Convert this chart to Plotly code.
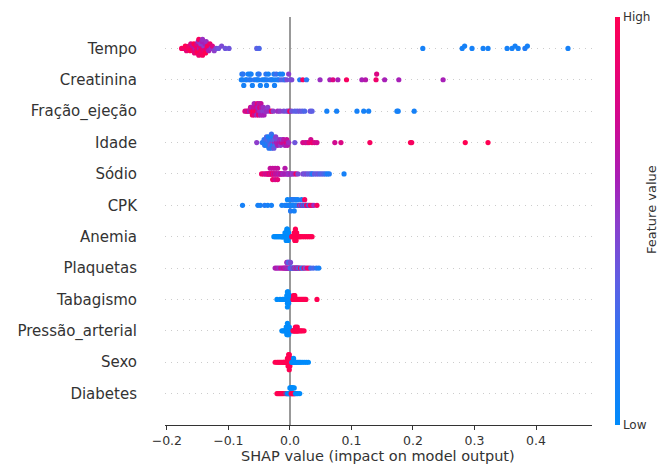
import numpy as np
import plotly.graph_objects as go

# Features, top to bottom
features = ["Tempo", "Creatinina", "Fração_ejeção", "Idade", "Sódio", "CPK",
            "Anemia", "Plaquetas", "Tabagismo", "Pressão_arterial", "Sexo", "Diabetes"]

# (SHAP value, normalised feature value) pairs
tempo = [(-0.176,0.95),(-0.172,0.9),(-0.170,1.0),(-0.168,0.85),(-0.166,0.95),(-0.164,0.9),(-0.162,1.0),
         (-0.161,0.8),(-0.159,0.95),(-0.158,0.7),(-0.157,0.9),(-0.156,1.0),(-0.155,0.85),(-0.154,0.6),
         (-0.153,0.95),(-0.152,0.9),(-0.151,0.75),(-0.150,1.0),(-0.149,0.55),(-0.148,0.9),(-0.148,0.95),
         (-0.147,0.65),(-0.146,0.85),(-0.145,1.0),(-0.145,0.5),(-0.144,0.9),(-0.143,0.6),(-0.142,0.95),
         (-0.142,0.55),(-0.141,0.8),(-0.140,0.5),(-0.139,0.9),(-0.138,0.6),(-0.137,1.0),(-0.136,0.55),
         (-0.135,0.85),(-0.134,0.95),(-0.132,0.6),(-0.130,0.9),(-0.128,0.55),(-0.126,0.8),(-0.123,0.5),
         (-0.120,0.45),(-0.116,0.4),(-0.111,0.45),(-0.105,0.4),(-0.099,0.4),
         (-0.054,0.35),(-0.050,0.3),
         (0.216,0.1),(0.280,0.1),(0.284,0.1),(0.296,0.1),(0.314,0.1),(0.322,0.1),(0.353,0.1),
         (0.361,0.1),(0.366,0.1),(0.371,0.1),(0.382,0.15),(0.386,0.1),(0.452,0.1)]

creatinina = [(-0.079,0.1),(-0.078,0.15),(-0.077,0.1),(-0.076,0.2),(-0.075,0.1),(-0.072,0.15),(-0.070,0.1),
              (-0.068,0.1),(-0.066,0.2),(-0.065,0.1),(-0.064,0.15),(-0.063,0.1),(-0.061,0.1),(-0.058,0.2),
              (-0.055,0.1),(-0.053,0.15),(-0.052,0.1),(-0.051,0.1),(-0.050,0.2),(-0.048,0.1),(-0.045,0.15),
              (-0.042,0.1),(-0.040,0.1),(-0.039,0.2),(-0.038,0.1),(-0.037,0.15),(-0.035,0.1),(-0.032,0.1),
              (-0.030,0.2),(-0.028,0.1),(-0.026,0.15),(-0.025,0.1),(-0.024,0.1),(-0.022,0.25),(-0.020,0.1),
              (-0.018,0.15),(-0.016,0.1),(-0.014,0.3),(-0.012,0.1),(-0.010,0.35),(-0.008,0.2),
              (-0.005,0.45),(-0.002,0.5),(0.001,0.4),(0.003,0.45),
              (0.016,0.15),(0.021,0.95),(0.027,0.2),(0.049,0.55),(0.065,0.6),(0.070,0.8),(0.078,0.6),
              (0.092,0.95),(0.117,0.6),(0.123,0.65),(0.140,0.9),(0.141,0.8),(0.154,0.6),(0.177,0.6),(0.249,0.6)]

fracao_ejecao = [(-0.073,0.8),(-0.070,0.7),(-0.068,0.9),(-0.066,0.6),(-0.064,0.75),(-0.063,0.85),(-0.062,0.6),
                 (-0.061,0.95),(-0.060,1.0),(-0.059,0.7),(-0.058,0.8),(-0.058,0.6),(-0.057,0.9),(-0.056,0.65),
                 (-0.055,1.0),(-0.055,0.75),(-0.054,0.55),(-0.053,0.85),(-0.052,0.7),(-0.052,0.6),(-0.051,0.9),
                 (-0.050,0.65),(-0.049,0.55),(-0.049,0.8),(-0.048,0.6),(-0.047,0.7),(-0.046,0.55),(-0.046,0.65),
                 (-0.045,0.6),(-0.044,0.5),(-0.043,0.55),(-0.042,0.6),(-0.040,0.5),(-0.038,0.55),(-0.036,0.5),
                 (-0.033,0.55),(-0.030,0.95),(-0.027,0.5),
                 (-0.020,0.55),(-0.016,0.5),(-0.010,0.45),(-0.005,0.4),(-0.002,0.45),(0.000,0.95),(0.003,0.4),
                 (0.008,0.35),(0.012,0.35),(0.016,0.4),(0.020,0.35),(0.024,0.3),(0.033,0.4),(0.036,0.35),
                 (0.060,0.1),(0.076,0.1),(0.109,0.1),(0.120,0.1),(0.128,0.1),(0.174,0.1),(0.176,0.1),(0.202,0.1)]

idade = [(-0.054,0.5),(-0.045,0.2),(-0.043,0.15),(-0.042,0.2),(-0.041,0.2),(-0.040,0.15),(-0.039,0.25),
         (-0.038,0.1),(-0.038,0.3),(-0.037,0.2),(-0.036,0.3),(-0.035,0.15),(-0.035,0.1),(-0.034,0.2),
         (-0.033,0.25),(-0.033,0.2),(-0.032,0.35),(-0.031,0.1),(-0.030,0.2),(-0.030,0.25),(-0.029,0.45),
         (-0.028,0.3),(-0.028,0.15),(-0.027,0.15),(-0.026,0.4),(-0.025,0.55),(-0.025,0.35),(-0.024,0.3),
         (-0.023,0.5),(-0.022,0.6),(-0.020,0.45),(-0.020,0.6),(-0.018,0.65),(-0.016,0.55),(-0.015,0.5),
         (-0.014,0.7),(-0.012,0.5),(-0.010,0.75),(-0.010,0.65),(-0.008,0.6),(-0.006,0.8),(-0.005,0.7),
         (-0.004,0.65),(-0.002,0.55),
         (0.008,0.4),(0.021,0.75),(0.025,0.8),(0.028,0.7),(0.031,0.85),(0.034,0.75),(0.036,0.9),
         (0.040,0.8),(0.044,0.75),(0.073,0.75),(0.083,0.8),(0.130,0.95),(0.196,1.0),(0.198,0.95),
         (0.285,1.0),(0.322,1.0)]

sodio = [(-0.046,0.9),(-0.043,0.85),(-0.040,0.75),(-0.038,0.8),(-0.036,0.7),(-0.035,0.8),(-0.034,0.75),
         (-0.033,0.9),(-0.032,0.7),(-0.031,0.65),(-0.030,0.8),(-0.029,0.95),(-0.028,0.7),(-0.028,0.9),
         (-0.027,0.75),(-0.026,0.65),(-0.025,0.85),(-0.024,0.7),(-0.024,0.75),(-0.023,0.6),(-0.022,0.75),
         (-0.021,0.65),(-0.020,0.7),(-0.020,0.85),(-0.019,0.8),(-0.018,0.6),(-0.016,0.65),(-0.015,0.7),
         (-0.014,0.7),(-0.012,0.6),(-0.010,0.55),(-0.009,0.6),(-0.008,0.65),(-0.006,0.6),(-0.004,0.55),
         (-0.003,0.65),(-0.002,0.5),(0.000,0.55),(0.002,0.6),(0.004,0.5),(0.007,0.55),(0.010,0.95),
         (0.013,0.45),
         (0.021,0.45),(0.024,0.4),(0.027,0.45),(0.030,0.35),(0.033,0.4),(0.035,0.3),(0.037,0.1),
         (0.040,0.4),(0.043,0.35),(0.046,0.4),(0.049,0.3),(0.052,0.35),(0.055,0.3),(0.058,0.25),
         (0.061,0.1),(0.064,0.15),(0.088,0.1)]

cpk = [(-0.077,0.1),(-0.052,0.1),(-0.048,0.1),(-0.041,0.15),(-0.036,0.1),(-0.030,0.1),(-0.013,0.1),
       (-0.008,0.1),(-0.006,0.15),(-0.005,0.1),(-0.004,0.05),(-0.003,0.1),(-0.002,0.2),(-0.001,0.1),
       (0.000,0.05),(0.001,0.1),(0.001,0.15),(0.002,0.1),(0.003,0.2),(0.003,0.1),(0.004,0.05),
       (0.005,0.1),(0.005,0.15),(0.006,0.1),(0.007,0.2),(0.007,0.1),(0.008,0.05),(0.009,0.1),
       (0.010,0.15),(0.010,0.1),(0.011,0.2),(0.012,0.1),(0.013,0.1),(0.014,0.3),(0.015,0.1),
       (0.016,0.9),(0.017,0.15),(0.018,0.5),(0.019,0.1),(0.020,0.85),(0.021,0.2),(0.022,0.1),
       (0.023,0.6),(0.024,0.95),(0.025,0.1),(0.026,0.2),(0.027,0.9),(0.029,0.8),(0.031,0.1),
       (0.033,0.95),(0.036,0.9),(0.039,0.55),(0.044,0.95)]

anemia = [(-0.026,0),(-0.024,0),(-0.022,0),(-0.020,0),(-0.018,0),(-0.016,0),(-0.014,0),(-0.013,0),
          (-0.012,0),(-0.011,0),(-0.010,0),(-0.009,0),(-0.008,0),(-0.008,0),(-0.007,0),(-0.007,0),
          (-0.006,0),(-0.006,0),(-0.006,0),(-0.005,0),(-0.005,0),(-0.005,0),(-0.005,0),(-0.004,0),
          (-0.004,0),(-0.004,0),(-0.004,0),(-0.003,0),(-0.003,0),(-0.003,0),(-0.002,0),(-0.002,0),
          (-0.001,0),
          (0.003,1),(0.004,1),(0.005,1),(0.006,1),(0.007,1),(0.007,1),(0.008,1),(0.008,1),(0.008,1),
          (0.009,1),(0.009,1),(0.009,1),(0.009,1),(0.010,1),(0.010,1),(0.010,1),(0.011,1),(0.011,1),
          (0.012,1),(0.014,1),(0.016,1),(0.018,1),(0.021,1),(0.024,1),(0.027,1),(0.030,1),(0.033,1),
          (0.036,1)]

plaquetas = [(-0.024,0.6),(-0.021,0.65),(-0.018,0.55),(-0.015,0.7),(-0.012,0.6),(-0.010,0.75),(-0.008,0.55),
             (-0.007,0.65),(-0.006,0.5),(-0.005,0.7),(-0.005,0.6),(-0.004,0.45),(-0.004,0.55),(-0.003,0.75),
             (-0.003,0.4),(-0.002,0.5),(-0.002,0.35),(-0.001,0.6),(-0.001,0.3),(0.000,0.4),(0.001,0.25),
             (0.001,0.45),(0.002,0.3),(0.003,0.2),(0.004,0.5),(0.005,0.35),(0.006,0.2),(0.007,0.8),
             (0.008,0.4),(0.009,0.3),(0.010,0.9),(0.011,0.6),(0.012,0.25),(0.013,0.85),(0.014,0.5),
             (0.015,0.2),(0.017,0.95),(0.019,0.3),(0.021,0.15),(0.023,0.9),(0.025,0.4),(0.028,0.85),
             (0.031,0.9),(0.034,0.25),(0.038,0.3),(0.043,0.2),(0.047,0.1)]

tabagismo = [(-0.021,0),(-0.016,0),(-0.012,0),(-0.010,0),(-0.008,0),(-0.007,0),(-0.006,0),(-0.005,0),
             (-0.005,0),(-0.004,0),(-0.004,0),(-0.004,0),(-0.004,0),(-0.004,0),(-0.003,0),(-0.003,0),
             (-0.003,0),(-0.003,0),(-0.002,0),(-0.002,0),(-0.002,0),(-0.001,0),(-0.001,0),(0.000,0),
             (0.000,0),(0.001,0),(0.002,0),
             (0.005,1),(0.006,1),(0.006,1),(0.007,1),(0.007,1),(0.008,1),(0.008,1),(0.009,1),(0.010,1),
             (0.011,1),(0.012,1),(0.014,1),(0.016,1),(0.018,1),(0.020,1),(0.022,1),(0.024,1),(0.026,1),
             (0.044,1)]

pressao_arterial = [(-0.013,0),(-0.011,0),(-0.009,0),(-0.008,0),(-0.007,0),(-0.006,0),(-0.006,0),(-0.005,0),
                    (-0.005,0),(-0.005,0),(-0.004,0),(-0.004,0),(-0.004,0),(-0.004,0),(-0.003,0),(-0.003,0),
                    (-0.003,0),(-0.002,0),(-0.002,0),(-0.002,0),(-0.001,0),(-0.001,0),(0.000,0),(0.001,0),
                    (0.002,0),(0.003,0),
                    (0.005,1),(0.006,1),(0.007,1),(0.008,1),(0.009,1),(0.009,1),(0.010,1),(0.011,1),(0.012,1),
                    (0.012,1),(0.013,1),(0.014,1),(0.016,1),(0.018,1),(0.020,1),(0.023,1)]

sexo = [(-0.024,1),(-0.021,1),(-0.019,1),(-0.017,1),(-0.015,1),(-0.013,1),(-0.011,1),(-0.010,1),
        (-0.009,1),(-0.008,1),(-0.007,1),(-0.006,1),(-0.005,1),(-0.004,1),(-0.004,1),(-0.003,1),
        (-0.003,1),(-0.003,1),(-0.002,1),(-0.002,1),(-0.002,1),(-0.002,1),(-0.001,1),(-0.001,1),
        (-0.001,1),(-0.001,1),(-0.001,1),(0.000,1),(0.000,1),(0.000,1),(0.001,1),(0.001,1),(0.002,1),
        (0.003,0),(0.004,0),(0.005,0),(0.006,0),(0.006,0),(0.007,0),(0.008,0),(0.009,0),(0.010,0),
        (0.012,0),(0.014,0),(0.016,0),(0.018,0),(0.021,0),(0.024,0),(0.027,0),(0.030,0)]

diabetes = [(-0.021,1),(-0.019,1),(-0.017,1),(-0.015,1),(-0.013,1),(-0.011,1),(-0.008,1),(-0.006,0),
            (-0.005,1),(-0.004,0),(-0.003,0),(-0.002,0),(-0.001,0),(0.000,0),(0.000,0),(0.001,0),
            (0.001,0),(0.002,1),(0.002,0),(0.003,1),(0.003,0),(0.004,1),(0.004,0),(0.005,1),(0.005,0),
            (0.006,1),(0.007,1),(0.007,0),(0.008,1),(0.009,0),(0.011,0),(0.013,0),(0.016,0)]

rows = [tempo, creatinina, fracao_ejecao, idade, sodio, cpk, anemia, plaquetas,
        tabagismo, pressao_arterial, sexo, diabetes]

x_ticks = [-0.2, -0.1, 0.0, 0.1, 0.2, 0.3, 0.4]
x_tick_labels = ["\u22120.2", "\u22120.1", "0.0", "0.1", "0.2", "0.3", "0.4"]


def swarm_offsets(xs, row_height=0.4, nbins=100):
    xs = np.asarray(xs, dtype=float)
    n = len(xs)
    quant = np.round(nbins * (xs - xs.min()) / (xs.max() - xs.min() + 1e-8))
    inds = np.argsort(quant, kind="stable")
    ys = np.zeros(n)
    layer, last = 0, None
    for ind in inds:
        if quant[ind] != last:
            layer = 0
        ys[ind] = np.ceil(layer / 2) * ((layer % 2) * 2 - 1)
        layer += 1
        last = quant[ind]
    ys *= 0.9 * (row_height / np.max(ys + 1))
    return ys


n_feat = len(features)
all_x, all_y, all_c = [], [], []
for i, row in enumerate(rows):
    xs = [p[0] for p in row]
    cs = [p[1] for p in row]
    pos = n_feat - 1 - i
    ys = swarm_offsets(xs) + pos
    all_x += xs
    all_y += list(ys)
    all_c += cs

colorscale = [[0.0, "#008bfb"], [0.2, "#2b76f3"], [0.35, "#5e5fe4"], [0.5, "#8d3dcb"],
              [0.6, "#a71fb7"], [0.75, "#d1098f"], [0.88, "#ec0370"], [1.0, "#ff0052"]]

# The page body has an 8px margin, so the figure is laid out in page pixels minus 8
OFF = 8
W, H = 666 - OFF, 465 - OFF
plot_l, plot_r, plot_t, plot_b = 165, 592, 17, 425   # page pixels
ml, mt = plot_l - OFF, plot_t - OFF
mr = W - (plot_r - OFF)
mb = H - (plot_b - OFF)
plot_w = plot_r - plot_l
plot_h = plot_b - plot_t


def px(xp):
    return (xp - plot_l) / plot_w


def py(yp):
    return (plot_b - yp) / plot_h


fig = go.Figure()
fig.add_trace(go.Scatter(
    x=all_x, y=all_y, mode="markers",
    marker=dict(size=5.2, color=all_c, colorscale=colorscale, cmin=0, cmax=1,
                line=dict(width=0), opacity=1,
                showscale=True,
                colorbar=dict(x=px(615), xanchor="left", xpad=0, ypad=0, y=0.5, yanchor="middle",
                              len=1.0, lenmode="fraction", thickness=5, outlinewidth=0,
                              tickvals=[0, 1], ticktext=["Low", "High"], ticks="", ticklen=0,
                              tickfont=dict(size=12, color="#333333"))),
    hoverinfo="x", showlegend=False))

fig.update_layout(
    width=W, height=H,
    margin=dict(l=ml, r=mr, t=mt, b=mb, autoexpand=False),
    paper_bgcolor="white", plot_bgcolor="white",
    font=dict(family="DejaVu Sans", color="#333333"),
    xaxis=dict(range=[-0.203, 0.491], tickvals=x_ticks, ticktext=x_tick_labels,
               showgrid=False, zeroline=True, zerolinecolor="#999999", zerolinewidth=1.6,
               showline=True, linecolor="#333333", linewidth=1,
               ticks="outside", ticklen=4, tickcolor="#333333", tickwidth=1,
               tickfont=dict(size=12.5, color="#333333")),
    yaxis=dict(range=[-1, n_feat], tickvals=list(range(n_feat)),
               ticktext=features[::-1], showgrid=True, gridcolor="#cccccc",
               griddash="1px,5px", gridwidth=1, zeroline=False, showline=False,
               ticks="", ticklabelstandoff=27,
               tickfont=dict(size=15, color="#333333")),
    annotations=[
        dict(text="SHAP value (impact on model output)", xref="paper", yref="paper",
             x=px(378), y=py(456),
             xanchor="center", yanchor="middle", showarrow=False,
             font=dict(size=14.5, color="#333333")),
        dict(text="Feature value", xref="paper", yref="paper",
             x=px(651), y=py(210),
             xanchor="center", yanchor="middle", textangle=-90, showarrow=False,
             font=dict(size=13, color="#333333")),
    ],
)

fig.write_html("out.html")
